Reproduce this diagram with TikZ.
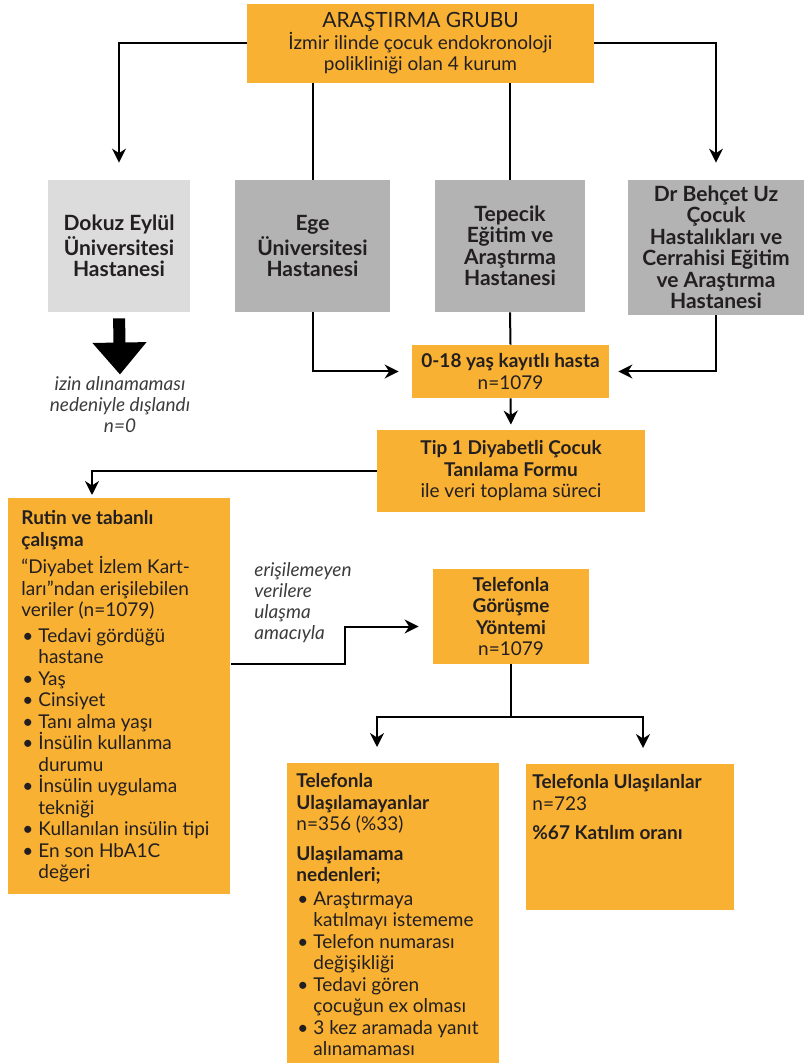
\documentclass[tikz,border=0pt]{standalone}
\usepackage{fontspec}
\setmainfont{Lato}
\usetikzlibrary{arrows.meta,positioning}

\definecolor{boxorange}{HTML}{F8B133}
\definecolor{hospgray}{HTML}{B3B3B3}
\definecolor{hosplight}{HTML}{DCDCDC}
\definecolor{inkblack}{HTML}{231F20}
\definecolor{notegray}{HTML}{3C3C3C}

% one bullet line with a hanging indent
\newcommand{\itm}[1]{\par\hangindent=8.5pt\hangafter=1\noindent\makebox[8.5pt][l]{\hspace{0.5pt}\textbullet}#1}

\begin{document}
\begin{tikzpicture}[
    x=0.5pt, y=-0.5pt,
    font=\fontsize{9.5}{10.75}\selectfont, text=inkblack,
    grp/.style={fill=boxorange, align=center, inner sep=0pt},
    hosp/.style={fill=hospgray, align=center, inner sep=0pt,
      font=\fontsize{10.5}{10.75}\selectfont\bfseries},
    proc/.style={fill=boxorange, anchor=north west, inner ysep=0pt},
    arrow/.style={-{Stealth[length=7pt,width=7pt]}, line width=1pt, black},
    link/.style={line width=1pt, black},
    bigarrow/.style={-{Triangle[length=16pt,width=26pt]}, line width=6pt, black},
    lab/.style={font=\fontsize{9.5}{10.5}\selectfont\itshape, text=notegray, inner sep=0pt}
  ]
  \useasboundingbox (0,0) rectangle (804,1063);

  \node[grp, minimum width=173.5pt, minimum height=39.5pt] (group) at (420.5,43.5)
    {{\fontsize{10.5}{10.75}\selectfont ARAŞTIRMA GRUBU}\\İzmir ilinde çocuk endokronoloji\\polikliniği olan 4 kurum};

  \node[hosp, fill=hosplight, minimum width=71pt, minimum height=66pt] (dokuz) at (119,246)
    {Dokuz Eylül\\Üniversitesi\\Hastanesi};
  \node[hosp, minimum width=77.5pt, minimum height=66pt] (ege) at (312.5,246)
    {Ege\\Üniversitesi\\Hastanesi};
  \node[hosp, minimum width=75pt, minimum height=66pt] (tepecik) at (510,246)
    {Tepecik\\Eğitim ve\\Araştırma\\Hastanesi};
  \node[hosp, minimum width=88pt, minimum height=67.5pt] (behcet) at (716,247.5)
    {Dr Behçet Uz\\Çocuk\\Hastalıkları ve\\Cerrahisi Eğitim\\ve Araştırma\\Hastanesi};

  \node[lab, align=center] (excl) at (120,405)
    {izin alınamaması\\nedeniyle dışlandı\\n=0};

  \node[grp, minimum width=98.5pt, minimum height=26.5pt] (hasta) at (510.5,371.5)
    {\textbf{0-18 yaş kayıtlı hasta}\\n=1079};
  \node[grp, minimum width=134pt, minimum height=41pt] (form) at (511,471)
    {\textbf{Tip 1 Diyabetli Çocuk}\\\textbf{Tanılama Formu}\\ile veri toplama süreci};

  \node[proc, inner xsep=6.5pt] (rutin) at (8,498)
    {\parbox[t][198pt][t]{98pt}{\raggedright\vspace{6pt}
      {\bfseries Rutin ve tabanlı\\çalışma}\par\vspace{3pt}
      “Diyabet İzlem Kart-\\ları”ndan erişilebilen\\veriler (n=1079)\par\vspace{2pt}
      \itm{Tedavi gördüğü\newline hastane}\itm{Yaş}\itm{Cinsiyet}\itm{Tanı alma yaşı}
      \itm{İnsülin kullanma\newline durumu}\itm{İnsülin uygulama\newline tekniği}
      \itm{Kullanılan insülin tipi}\itm{En son HbA1C\newline değeri}}};

  \node[grp, minimum width=78pt, minimum height=47.5pt] (telgor) at (511,616.5)
    {\textbf{Telefonla}\\\textbf{Görüşme}\\\textbf{Yöntemi}\\n=1079};
  \node[lab, align=left, anchor=north west] (purpose) at (254,562)
    {erişilemeyen\\verilere\\ulaşma\\amacıyla};

  \node[proc, inner xsep=4.5pt] (ulasama) at (287,763)
    {\parbox[t][150pt][t]{97pt}{\raggedright\vspace{5pt}
      {\bfseries Telefonla\\Ulaşılamayanlar}\\n=356 (\%33)\par\vspace{4pt}
      {\bfseries Ulaşılamama\\nedenleri;}\par\vspace{1pt}
      \itm{Araştırmaya\newline katılmayı istememe}\itm{Telefon numarası\newline değişikliği}
      \itm{Tedavi gören\newline çocuğun ex olması}\itm{3 kez aramada yanıt\newline alınamaması}}};
  \node[proc, inner xsep=3pt] (ulasan) at (526,764)
    {\parbox[t][73pt][t]{98pt}{\raggedright\vspace{5pt}
      {\bfseries Telefonla Ulaşılanlar}\\n=723\par\vspace{4pt}
      {\bfseries \%67 Katılım oranı}}};

  % group to hospitals
  \draw[arrow, shorten >=8.5pt] (group.west) -| (dokuz.north);
  \draw[arrow, shorten >=8.5pt] (group.east) -| (behcet.north);
  \draw[link] (group.south -| ege.north) -- (ege.north);
  \draw[link] (group.south -| tepecik.north) -- (tepecik.north);
  \draw[bigarrow, shorten <=3pt, shorten >=1pt] (dokuz.south) -- (excl.north);

  % hospitals to patients
  \draw[arrow, shorten >=6.5pt] (ege.south) |- (hasta.west);
  \draw[link] (tepecik.south) -- (hasta.north);
  \draw[arrow, shorten >=4.5pt] (behcet.south) |- (hasta.east);
  \draw[arrow, shorten >=2.5pt] (hasta.south) -- (form.north);
  \draw[arrow, shorten >=1.5pt] (form.west) -| ([xshift=42pt]rutin.north west);

  % phone method
  \draw[arrow, shorten >=7pt] (rutin.east |- telgor.south) -- ++(57pt,0) |- ([yshift=-5pt]telgor.west);
  \draw[link] (telgor.south) -- ++(0,-26.5pt) coordinate (split);
  \draw[arrow, shorten >=8pt] (split) -| ([xshift=45pt]ulasama.north west);
  \draw[arrow, shorten >=8pt] (split) -| ([xshift=58.5pt]ulasan.north west);
\end{tikzpicture}
\end{document}
